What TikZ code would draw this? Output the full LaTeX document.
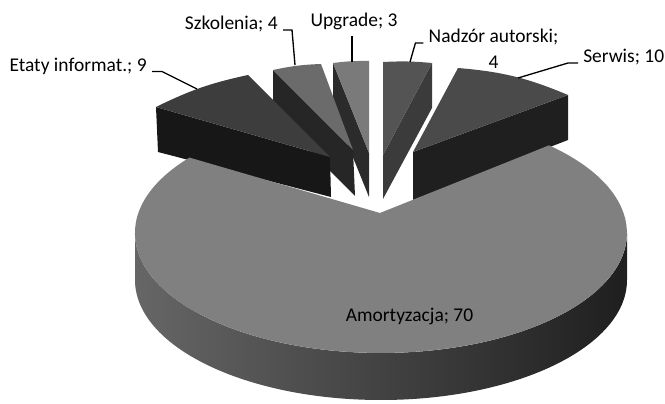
\documentclass[tikz,border=0pt]{standalone}
\usepackage{fontspec}
\setmainfont{Carlito}
\begin{document}
\begin{tikzpicture}[x=0.75pt, y=0.75pt,
    leader/.style={black, line width=1pt},
    lbl/.style={font=\fontsize{14.6}{19.5}\selectfont, inner sep=3.75pt}]
    \useasboundingbox (0,0) rectangle (665,404);

    % --- back slices (far ones first) ---
    \coordinate (ug-l) at (333,341); \coordinate (ug-r) at (369,343);
    \coordinate (ug-c) at (369,251); \coordinate (ug-cb) at (369,207); \coordinate (ug-lb) at (333,296);
    \fill[black!83] (ug-l) -- (ug-c) -- (ug-cb) -- (ug-lb) -- cycle;
    \fill[black!52] (ug-l) to[bend left=4] (ug-r) -- (ug-c) -- cycle;

    \coordinate (nz-l) at (383,342); \coordinate (nz-r) at (432,341);
    \coordinate (nz-c) at (383,249); \coordinate (nz-cb) at (383,205); \coordinate (nz-rb) at (432,296);
    \fill[black!77] (nz-r) -- (nz-c) -- (nz-cb) -- (nz-rb) -- cycle;
    \fill[black!67] (nz-l) to[bend left=4] (nz-r) -- (nz-c) -- cycle;

    \coordinate (sk-l) at (273,334); \coordinate (sk-r) at (321,340);
    \coordinate (sk-c) at (353,254); \coordinate (sk-cb) at (355,208); \coordinate (sk-lb) at (273,290);
    \fill[black!85] (sk-l) -- (sk-c) -- (sk-cb) -- (sk-lb) -- cycle;
    \fill[black!58] (sk-l) to[bend left=5] (sk-r) -- (sk-c) -- cycle;

    \coordinate (sw-l) at (458,336); \coordinate (sw-r) at (568,309);
    \coordinate (sw-c) at (413,252); \coordinate (sw-cb) at (413,204); \coordinate (sw-rb) at (568,264);
    \fill[black!88] (sw-c) -- (sw-r) -- (sw-rb) -- (sw-cb) -- cycle;
    \fill[black!71] (sw-l) to[bend left=9] (sw-r) -- (sw-c) -- cycle;

    \coordinate (et-l) at (156,297); \coordinate (et-r) at (248,329);
    \coordinate (et-c) at (330,247); \coordinate (et-cb) at (331,207); \coordinate (et-lb) at (158,252);
    \fill[black!91] (et-l) -- (et-c) -- (et-cb) -- (et-lb) -- cycle;
    \fill[black!76] (et-l) to[bend left=7] (et-r) -- (et-c) -- cycle;

    % --- Amortyzacja, the big front slice ---
    \coordinate (am-c) at (380,191); \coordinate (am-w) at (135,171); \coordinate (am-l) at (189.5,246.4);
    \shade[left color=black!60, right color=black!88]
        (am-w) arc[start angle=180, end angle=360, x radius=246, y radius=120]
        -- ++(0,-47) arc[start angle=360, end angle=180, x radius=246, y radius=120] -- cycle;
    \fill[black!50] (am-c) -- (am-l) arc[start angle=141.1, end angle=406.9, x radius=246, y radius=120] -- cycle;

    % --- labels and leaders ---
    \node[lbl, anchor=base east] (etaty) at (152,332.5) {Etaty informat.; 9};
    \node[lbl, anchor=base east] (szkol) at (283,374) {Szkolenia; 4};
    \node[lbl, anchor=base] (upg) at (354,377) {Upgrade; 3};
    \node[lbl, anchor=base, align=center] (nadzor) at (493.5,335) {Nadzór autorski;\\4};
    \node[lbl, anchor=base west] (serwis) at (578,341) {Serwis; 10};
    \node[lbl, anchor=base] (amort) at (409.5,82.5) {Amortyzacja; 70};

    \coordinate (et-tip) at (197,315); \coordinate (sk-tip) at (295,339);
    \coordinate (ug-tip) at (352,342); \coordinate (nz-tip) at (410,342);
    \coordinate (sw-tip) at (518,326);

    \draw[leader] (etaty.base east) -- ++(10,0) -- (et-tip);
    \draw[leader] (szkol.base east) -- ++(9,0) -- (sk-tip);
    \draw[leader] (upg.south -| ug-tip) -- (ug-tip);
    \draw[leader] (nadzor.base west) ++(0,26) -- ++(-8,0) -- (nz-tip);
    \draw[leader] (serwis.base west) -- ++(-10,0) -- (sw-tip);
\end{tikzpicture}
\end{document}
